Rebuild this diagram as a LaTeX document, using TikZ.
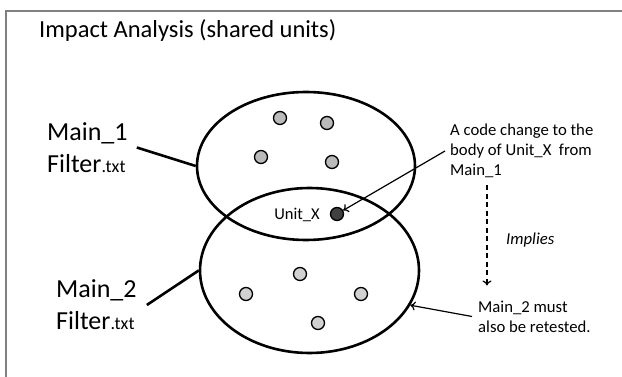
\documentclass[tikz,border=0pt]{standalone}
\usepackage{fontspec}
\setmainfont{Carlito}
\usetikzlibrary{shapes.geometric,arrows.meta}

\begin{document}
\begin{tikzpicture}[x=1pt,y=-1pt,
  ring/.style={draw, ellipse, line width=2.6pt, inner sep=0pt},
  unitdot/.style={circle, draw, line width=1.3pt, fill=#1, minimum size=13pt, inner sep=0pt},
  unitdot/.default={black!27},
  biglabel/.style={anchor=west, align=left, inner sep=0pt, font=\fontsize{26}{32}\selectfont},
  note/.style={anchor=west, align=left, inner sep=0pt, font=\fontsize{16.7}{20}\selectfont},
  pointer/.style={line width=1.2pt, -{To[length=5pt,width=9pt]}}]

\useasboundingbox (0,0) rectangle (622,377);

% Rahmen
\draw[black!50, line width=2.5pt] (6,400) -- (6,11) -- (640,11);

% Titel
\node[anchor=base west, inner sep=0pt, font=\fontsize{24.5}{29}\selectfont] (title) at (39,38) {Impact Analysis (shared units)};

% Ellipsen
\node[ring, minimum width=218pt, minimum height=148pt] (upper) at (306,166) {};
\node[ring, minimum width=219pt, minimum height=165pt] (lower) at (309.5,270.5) {};

% Units Main_1
\node[unitdot] (u1) at (280,118) {};
\node[unitdot] (u2) at (327,123) {};
\node[unitdot] (u3) at (261,157) {};
\node[unitdot] (u4) at (332,162) {};

% Unit_X
\node[unitdot=black!75] (ux) at (337,214) {};
\node[inner sep=0pt, font=\fontsize{16.5}{19}\selectfont] (uxlabel) at (297,215) {Unit\_X};

% Units Main_2
\node[unitdot=black!18] (v1) at (300,274) {};
\node[unitdot=black!18] (v2) at (246,294) {};
\node[unitdot=black!18] (v3) at (361,294) {};
\node[unitdot=black!18] (v4) at (318,323) {};

% Labels links
\node[biglabel] (main1) at (47,147.5) {Main\_1\\Filter{\fontsize{18}{20}\selectfont.txt}};
\node[biglabel] (main2) at (56,305) {Main\_2\\Filter{\fontsize{18}{20}\selectfont.txt}};
\draw[line width=2.6pt] ([xshift=9pt]main1.east) -- (upper.west);
\draw[line width=2.6pt] ([xshift=10pt]main2.east) -- (lower.west);

% Hinweise rechts
\node[note] (change) at (450,151) {A code change to the\\body of Unit\_X~ from\\Main\_1};
\node[note, font=\fontsize{16.7}{20}\selectfont\itshape] (implies) at (506,240) {Implies};
\node[note] (retest) at (478,316.5) {Main\_2 must\\also be retested.};

\draw[pointer] ([xshift=-5pt]change.west) -- (ux);
\draw[pointer, dash pattern=on 5pt off 3.5pt] ([xshift=37pt,yshift=-7pt]change.south west) -- ([xshift=9pt,yshift=15pt]retest.north west);
\draw[pointer] ([xshift=-6pt]retest.west) -- (lower.-19);

\end{tikzpicture}
\end{document}
